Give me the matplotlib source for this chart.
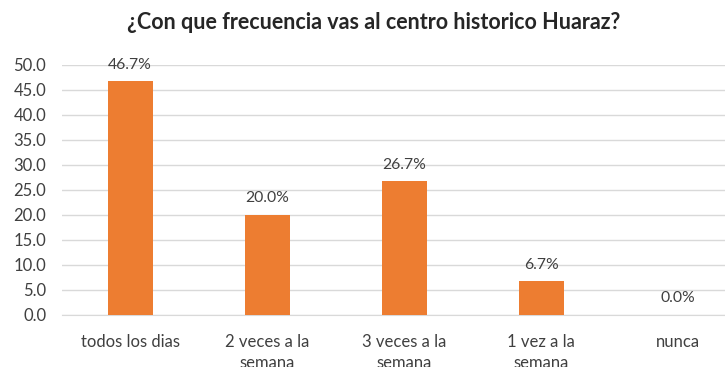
import matplotlib.pyplot as plt
import numpy as np

plt.rcParams['font.family'] = ['Lato', 'DejaVu Sans']

categories = ["todos los dias", "2 veces a la\nsemana", "3 veces a la\nsemana",
              "1 vez a la\nsemana", "nunca"]
percent = [46.7, 20.0, 26.7, 6.7, 0.0]

fig = plt.figure(figsize=(7.25, 3.67), dpi=100)
ax = fig.add_axes([0.085, 0.142, 0.945, 0.681])

x = np.arange(len(categories))
ax.bar(x, percent, width=0.33, color="#ED7D31", zorder=3)

for xi, v in zip(x, percent):
    ax.annotate(f"{v:.1f}%", (xi, v), xytext=(0, 7), textcoords="offset points",
                ha="center", va="bottom", fontsize=11.3, color="#404040")

ax.set_xlim(-0.5, len(categories) - 0.5)
ax.set_ylim(0, 50)
ax.set_yticks(np.arange(0, 50.1, 5))
ax.set_yticklabels([f"{t:.1f}" for t in np.arange(0, 50.1, 5)])
ax.set_xticks(x)
ax.set_xticklabels(categories, linespacing=1.35, va="top")
ax.tick_params(axis="both", length=0, labelsize=12, labelcolor="#404040")
ax.tick_params(axis="x", pad=14)
ax.tick_params(axis="y", pad=11)
ax.grid(axis="y", color="#D9D9D9", linewidth=1, zorder=0)
for side in ["top", "right", "left"]:
    ax.spines[side].set_visible(False)
ax.spines["bottom"].set_color("#D9D9D9")

fig.text(0.515, 0.94, "¿Con que frecuencia vas al centro historico Huaraz?",
         ha="center", va="center", fontsize=15.5, fontweight="bold", color="#262626")

fig.savefig("out.png", dpi=100)
